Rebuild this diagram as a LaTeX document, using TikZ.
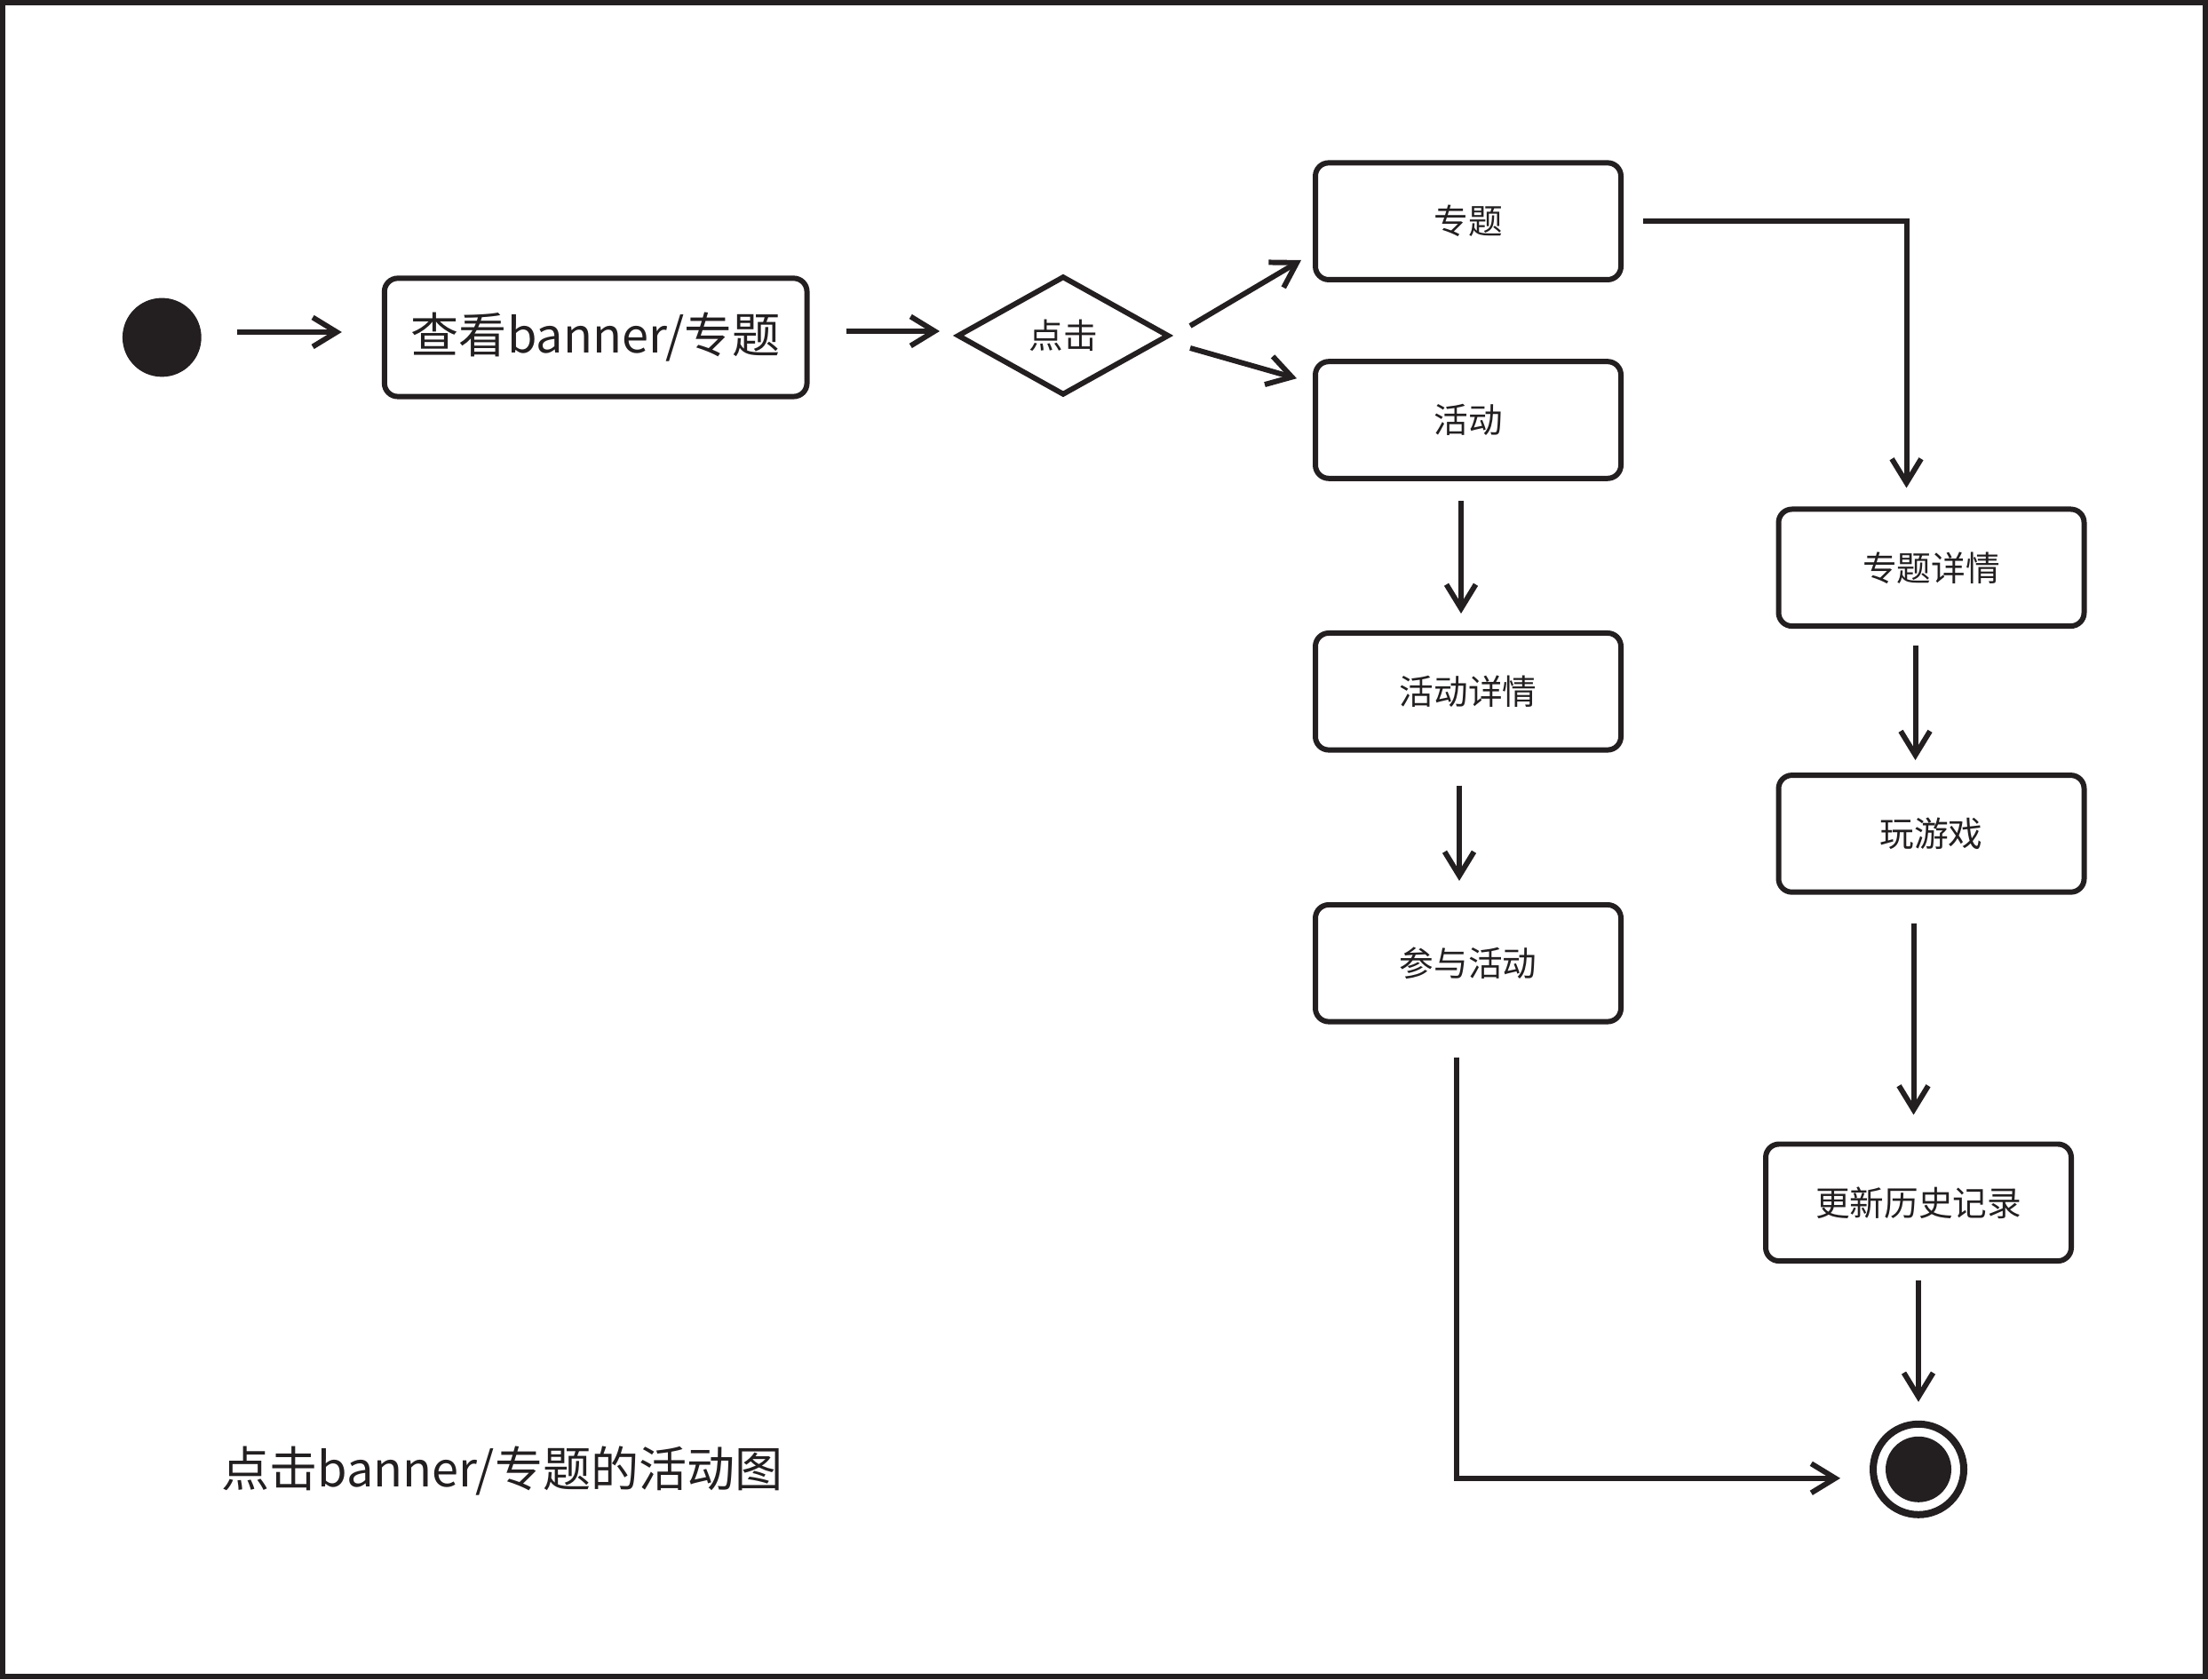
\documentclass[tikz,border=0pt]{standalone}
\usepackage{fontspec}
\setmainfont{Noto Sans CJK SC}
\usepackage{tikz}
\usetikzlibrary{arrows.meta,positioning,shapes.geometric}
\definecolor{umlInk}{RGB}{35,31,32}

\tikzset{
  actbox/.style={draw=umlInk, line width=1.7pt, rounded corners=1.5mm,
    minimum width=3.44cm, minimum height=1.316cm, inner sep=0pt, outer sep=0pt,
    text=umlInk, font=\fontsize{11pt}{13pt}\selectfont},
  choicebox/.style={diamond, draw=umlInk, line width=1.7pt, minimum width=2.36cm,
    minimum height=1.316cm, inner sep=0pt, outer sep=0pt,
    text=umlInk, font=\fontsize{11pt}{13pt}\selectfont},
  startdot/.style={circle, fill=umlInk, minimum size=0.888cm, inner sep=0pt, outer sep=0pt},
  endring/.style={circle, draw=umlInk, line width=0.08cm, minimum size=1.02cm, inner sep=0pt, outer sep=0pt},
  flow/.style={draw=umlInk, line width=1.7pt, -{Straight Barb[length=2.7mm,width=3.3mm]}}
}

\begin{document}
\begin{tikzpicture}

    % frame
    \useasboundingbox (0,0) rectangle (24.86,18.91);
    \draw[umlInk, line width=0.06cm] (0.03,0.03) rectangle (24.83,18.88);

    % =========================
    % nodes
    % =========================
    \node[startdot] (start) at (1.823,15.11) {};
    \node[actbox, minimum width=4.757cm, minimum height=1.332cm,
          font=\fontsize{15.4pt}{18pt}\selectfont] (view) at (6.707,15.11) {查看banner/专题};
    \node[choicebox] (choice) at (11.97,15.13) {点击};

    \node[actbox] (topic) at (16.53,16.418) {专题};
    \node[actbox] (event) at (16.53,14.18) {活动};
    \node[actbox] (eventdetail) at (16.53,11.122) {活动详情};
    \node[actbox] (join) at (16.53,8.062) {参与活动};

    \node[actbox] (topicdetail) at (21.745,12.517) {专题详情};
    \node[actbox] (play) at (21.745,9.521) {玩游戏};
    \node[actbox] (history) at (21.60,5.367) {更新历史记录};

    \node[endring] (final) at (21.60,2.362) {};
    \fill[umlInk] (final.center) circle (0.37cm);

    % caption
    \node[anchor=west, inner sep=0pt, text=umlInk, font=\fontsize{15.4pt}{18pt}\selectfont]
        (title) at (2.489,2.347) {点击banner/专题的活动图};

    % =========================
    % connectors
    % =========================
    \draw[flow, shorten <=0.40cm, shorten >=0.48cm] ([yshift=0.06cm]start.east) -- ([yshift=0.06cm]start.east -| view.west);
    \draw[flow, shorten <=0.44cm, shorten >=0.21cm] ([yshift=0.07cm]view.east) -- ([yshift=0.07cm]view.east -| choice.west);

    \draw[flow] ([xshift=0.25cm,yshift=0.11cm]choice.east) -- ([xshift=-0.16cm,yshift=0.22cm]topic.south west);
    \draw[flow] ([xshift=0.25cm,yshift=-0.14cm]choice.east) -- ([xshift=-0.21cm,yshift=-0.19cm]event.north west);

    % topic branch
    \draw[flow, shorten <=0.25cm, shorten >=0.24cm] (topic.east) -| ([xshift=-0.28cm]topicdetail.north);
    \draw[flow, shorten <=0.22cm, shorten >=0.17cm] ([xshift=-0.18cm]topicdetail.south) -- ([xshift=-0.18cm]play.north);
    \draw[flow, shorten <=0.35cm, shorten >=0.33cm] ([xshift=-0.2cm]play.south) -- ([xshift=-0.2cm]play.south |- history.north);
    \draw[flow, shorten <=0.22cm, shorten >=0.25cm] (history) -- (final);

    % event branch
    \draw[flow, shorten <=0.25cm, shorten >=0.22cm] ([xshift=-0.08cm]event.south) -- ([xshift=-0.08cm]eventdetail.north);
    \draw[flow, shorten <=0.40cm, shorten >=0.27cm] ([xshift=-0.10cm]eventdetail.south) -- ([xshift=-0.10cm]join.north);
    \draw[flow, shorten <=0.40cm, shorten >=0.37cm] ([xshift=-0.13cm]join.south) |- ([yshift=-0.1cm]final.west);

\end{tikzpicture}
\end{document}
